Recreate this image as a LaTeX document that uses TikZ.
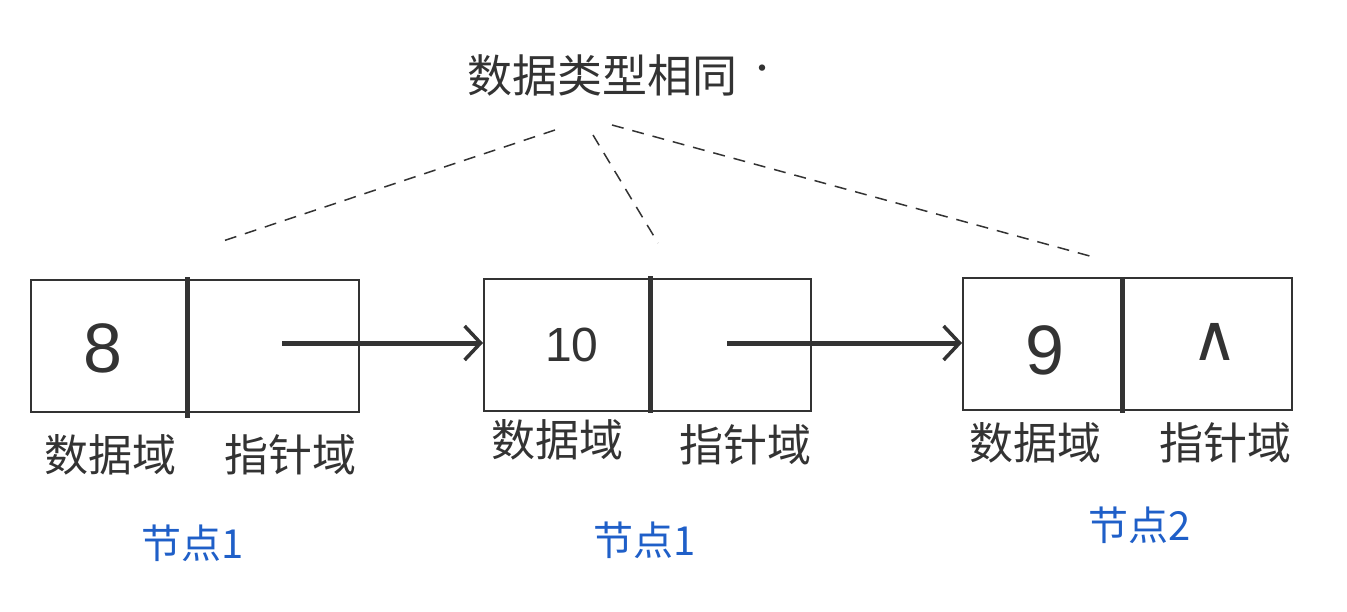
\documentclass[tikz,border=0pt]{standalone}
\usepackage{fontspec}
\setmainfont{Liberation Sans}
\newfontfamily\cjk{Noto Sans CJK SC}
\newfontfamily\dejavu{DejaVu Sans}
\usetikzlibrary{arrows.meta}
\definecolor{ink}{HTML}{333333}
\definecolor{bluink}{HTML}{1F5FC8}
\tikzset{
  cellbox/.style={draw=ink, line width=2pt, rectangle, minimum height=132pt, inner sep=0pt},
  divider/.style={draw=ink, line width=5pt},
  link/.style={draw=ink, line width=5pt, -{Straight Barb[length=16pt,width=34pt,line width=3.5pt]}},
  guide/.style={draw=ink, line width=1.5pt, dash pattern=on 12pt off 9pt},
  field/.style={font=\cjk\fontsize{44}{48}\selectfont, text=ink, inner sep=0pt},
  nodename/.style={font=\cjk\fontsize{40}{44}\selectfont, text=bluink, inner sep=0pt},
  value/.style={font=\fontsize{70}{80}\selectfont, text=ink, inner sep=0pt},
}
\begin{document}
\begin{tikzpicture}[x=1pt,y=-1pt]
\useasboundingbox (0,0) rectangle (1347,611);
% boxes
\node[cellbox, minimum width=328pt] (b1) at (195,346) {};
\node[cellbox, minimum width=327pt] (b2) at (647.5,345) {};
\node[cellbox, minimum width=329pt] (b3) at (1127.5,344) {};
% dividers
\coordinate (d1t) at (187,277); \coordinate (d1b) at (187,418);
\coordinate (d2t) at (650,276); \coordinate (d2b) at (650,413);
\coordinate (d3t) at (1122,278); \coordinate (d3b) at (1122,413);
\draw[divider] (d1t) -- (d1b);
\draw[divider] (d2t) -- (d2b);
\draw[divider] (d3t) -- (d3b);
% values
\node[value] (v1) at (103,348) {8};
\node[value, font=\fontsize{48}{54}\selectfont] (v2) at (572,345) {10};
\node[value] (v3) at (1045,350) {9};
\node[value, font=\dejavu\fontsize{64}{70}\selectfont] (v4) at (1215,342) {∧};
% arrows
\coordinate (p1) at (282,343);
\coordinate (p2) at (727,343);
\draw[link] (p1) -- (b2.west |- p1);
\draw[link] (p2) -- (b3.west |- p2);
% field labels
\node[field] (f1a) at (110,455) {数据域};
\node[field] (f1b) at (290,455) {指针域};
\node[field] (f2a) at (557,440) {数据域};
\node[field] (f2b) at (745,445) {指针域};
\node[field] (f3a) at (1035,443) {数据域};
\node[field] (f3b) at (1225,443) {指针域};
% node names
\node[nodename] (n1) at (193,543) {节点1};
\node[nodename] (n2) at (645,540) {节点1};
\node[nodename] (n3) at (1140,525) {节点2};
% top label
\node[field, font=\cjk\fontsize{45}{50}\selectfont] (top) at (602,75) {数据类型相同};
\node[field, font=\cjk\fontsize{30}{34}\selectfont] (dot) at (762,72) {·};
% dashed guides
\coordinate (g1s) at (555,130); \coordinate (g1e) at (220,242);
\coordinate (g2s) at (593,135); \coordinate (g2e) at (658,243);
\coordinate (g3s) at (612,125); \coordinate (g3e) at (1097,258);
\draw[guide] (g1s) -- (g1e);
\draw[guide] (g2s) -- (g2e);
\draw[guide] (g3s) -- (g3e);
\end{tikzpicture}
\end{document}
